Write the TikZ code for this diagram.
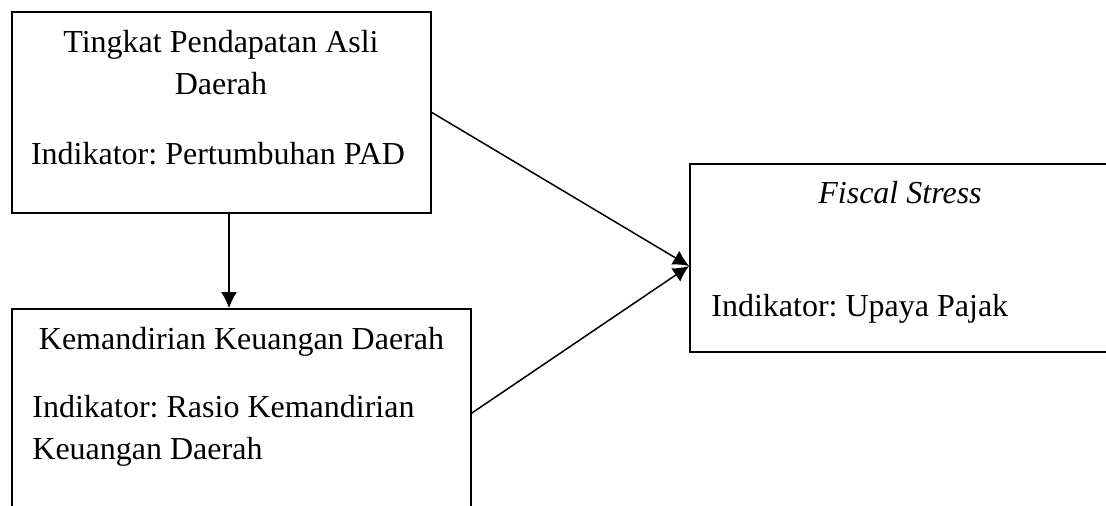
\documentclass[tikz,border=0pt]{standalone}
\usepackage{fontspec}
\setmainfont{Liberation Serif}
\usetikzlibrary{arrows.meta}
\tikzset{
  varbox/.style={draw, line width=0.9pt, rectangle, inner sep=0pt},
  boxtext/.style={inner sep=0pt},
  link/.style={-{Latex[length=8pt,width=8pt]}, line width=0.75pt}
}
\frenchspacing
\begin{document}
\begin{tikzpicture}[x=0.5pt, y=-0.5pt, every node/.style={font=\fontsize{16}{21}\selectfont}]
\useasboundingbox (0,0) rectangle (1106,506);
\clip (0,0) rectangle (1106,506);
% boxes
\node[varbox, minimum width=209.5pt, minimum height=100.5pt] (pad) at (221.5,112.5) {};
\node[varbox, minimum width=229.5pt, minimum height=104pt] (mandiri) at (241.5,413) {};
\node[varbox, minimum width=210pt, minimum height=94pt] (stress) at (900,258) {};
% texts
\node[boxtext, anchor=base] (padA) at (221,53) {Tingkat Pendapatan Asli};
\node[boxtext, anchor=base] (padB) at (221,95) {Daerah};
\node[boxtext, anchor=base] (padC) at (218,165) {Indikator: Pertumbuhan PAD};
\node[boxtext, anchor=base] (mandiriA) at (241.5,350) {Kemandirian Keuangan Daerah};
\node[boxtext, anchor=base west] (mandiriB) at (32,418) {Indikator: Rasio Kemandirian};
\node[boxtext, anchor=base west] (mandiriC) at (32,460) {Keuangan Daerah};
\node[boxtext, anchor=base] (stressA) at (900,204) {\textit{Fiscal Stress}};
\node[boxtext, anchor=base west] (stressB) at (711,317) {Indikator: Upaya Pajak};
% arrows
\coordinate (meet) at ([yshift=-4pt]stress.west);
\draw[link] ([xshift=3.75pt]pad.south) -- ([xshift=3.75pt]pad.south |- mandiri.north);
\draw[link] (pad.east) -- (meet);
\draw[link] (mandiri.east) -- (meet);
\end{tikzpicture}
\end{document}
